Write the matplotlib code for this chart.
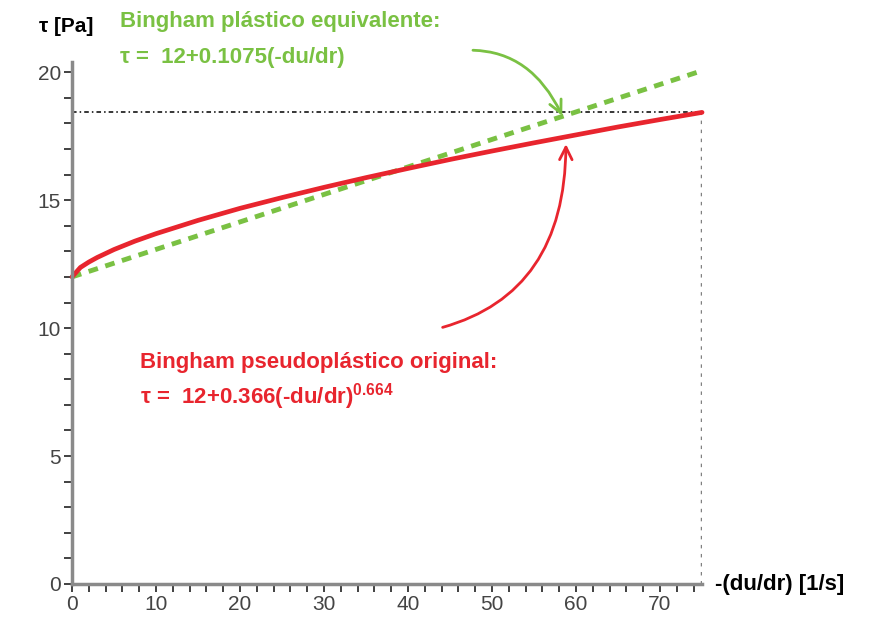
import matplotlib
matplotlib.use("Agg")
import matplotlib.pyplot as plt
from matplotlib.ticker import MultipleLocator

plt.rcParams['font.family'] = ['Liberation Sans', 'DejaVu Sans']
plt.rcParams['mathtext.default'] = 'regular'

# valores
x_orig = [0, 1, 2, 3, 5, 7.5, 10, 15, 20, 25, 30, 35, 40, 45, 50, 55, 60, 65, 70, 75]
tau_orig = [12.0, 12.37, 12.58, 12.76, 13.07, 13.40, 13.69, 14.21, 14.68, 15.10,
            15.50, 15.88, 16.24, 16.59, 16.92, 17.24, 17.55, 17.86, 18.15, 18.43]
x_equiv = [0, 75]
tau_equiv = [12.0, 20.06]
tau_ref = 18.43
x_ref = 75

rojo = "#e8252e"
verde = "#7ac143"

fig = plt.figure(figsize=(8.77, 6.21), dpi=100)
ax = fig.add_axes([0.0821, 0.0596, 0.7184, 0.8406])

# lineas de referencia punteadas
ax.plot([0, x_ref], [tau_ref, tau_ref], color="black", lw=1.1, ls=(0, (3, 2, 1, 2)))
ax.plot([x_ref, x_ref], [0, tau_ref], color="#808080", lw=2.5, ls=(0, (1, 1.6)))

ax.plot(x_equiv, tau_equiv, color=verde, lw=3.5, ls=(0, (2, 1.6)), clip_on=False)
ax.plot(x_orig, tau_orig, color=rojo, lw=3.4, clip_on=False, solid_capstyle="round")

ax.set_xlim(0, 75)
ax.set_ylim(0, 20.4)
ax.xaxis.set_major_locator(MultipleLocator(10))
ax.xaxis.set_minor_locator(MultipleLocator(2))
ax.yaxis.set_major_locator(MultipleLocator(5))
ax.yaxis.set_minor_locator(MultipleLocator(1))

for s in ["top", "right"]:
    ax.spines[s].set_visible(False)
for s in ["left", "bottom"]:
    ax.spines[s].set_color("#8a8a8a")
    ax.spines[s].set_linewidth(2.5)

ax.tick_params(which="both", direction="out", length=6, width=1.3, color="#333333",
               labelsize=15, labelcolor="#444444", pad=2)

# flechas dibujadas a mano
ax.annotate("", xy=(58.5, 18.2), xytext=(47.4, 20.86), annotation_clip=False,
            arrowprops=dict(arrowstyle="->,head_length=0.9,head_width=0.45", color=verde,
                            lw=2, connectionstyle="angle3,angleA=0,angleB=-65"))
ax.annotate("", xy=(58.8, 17.3), xytext=(43.8, 10.0),
            arrowprops=dict(arrowstyle="->,head_length=0.9,head_width=0.45", color=rojo,
                            lw=2, connectionstyle="angle3,angleA=15,angleB=90"))

fig.text(0.045, 0.957, "τ [Pa]", fontsize=15, fontweight="bold", va="center")
fig.text(0.815, 0.058, "-(du/dr) [1/s]", fontsize=16, fontweight="bold", va="center")

fig.text(0.137, 0.965, "Bingham plástico equivalente:", fontsize=16,
         fontweight="bold", color=verde, va="center")
fig.text(0.137, 0.908, "τ =  12+0.1075(-du/dr)", fontsize=16,
         fontweight="bold", color=verde, va="center")
fig.text(0.16, 0.4155, "Bingham pseudoplástico original:", fontsize=16,
         fontweight="bold", color=rojo, va="center")
fig.text(0.16, 0.362, "τ =  12+0.366(-du/dr)$^{0.664}$", fontsize=16,
         fontweight="bold", color=rojo, va="center")

fig.savefig("out.png", dpi=100)
